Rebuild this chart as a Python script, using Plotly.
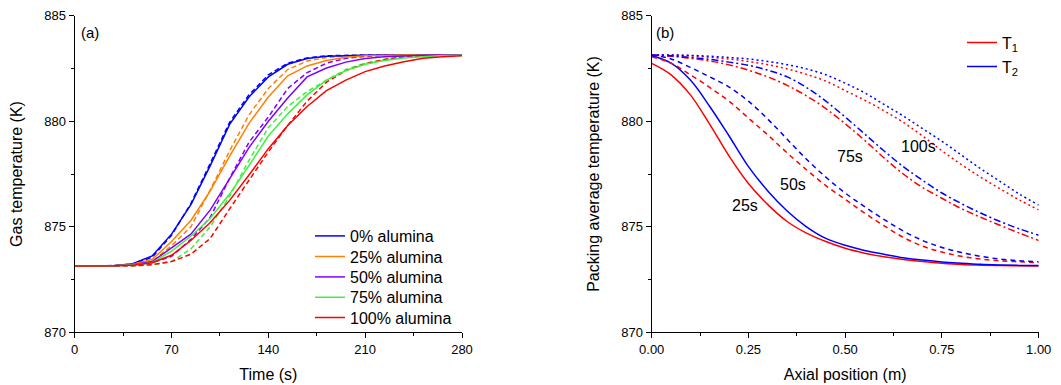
import plotly.graph_objects as go

# ---------------- Panel (a) data ----------------
time_s = [0, 14, 28, 42, 56, 70, 84, 98, 112, 126, 140, 154, 168, 182, 196, 210, 224, 238, 252, 266, 280]

a0_solid = [873.14, 873.14, 873.15, 873.25, 873.62, 874.65, 876.05, 877.9, 879.85, 881.15, 882.1, 882.7, 882.97, 883.08, 883.12, 883.13, 883.14, 883.14, 883.14, 883.14, 883.14]
a0_dash = [873.14, 873.14, 873.15, 873.24, 873.55, 874.6, 876.1, 878.0, 879.95, 881.25, 882.2, 882.75, 883.0, 883.1, 883.13, 883.14, 883.14, 883.14, 883.14, 883.14, 883.14]
a25_solid = [873.14, 873.14, 873.15, 873.22, 873.45, 874.3, 875.3, 876.7, 878.35, 879.9, 881.15, 882.15, 882.62, 882.88, 883.03, 883.1, 883.13, 883.14, 883.14, 883.14, 883.14]
a25_dash = [873.14, 873.14, 873.14, 873.2, 873.35, 874.1, 875.0, 876.75, 878.6, 880.3, 881.55, 882.45, 882.85, 883.02, 883.1, 883.13, 883.14, 883.14, 883.14, 883.14, 883.14]
a50_solid = [873.14, 873.14, 873.15, 873.2, 873.35, 874.0, 874.65, 875.8, 877.3, 878.75, 880.0, 881.1, 882.1, 882.52, 882.8, 882.97, 883.06, 883.11, 883.13, 883.14, 883.14]
a50_dash = [873.14, 873.14, 873.14, 873.17, 873.3, 873.6, 874.4, 875.45, 877.3, 879.0, 880.2, 881.55, 882.3, 882.75, 882.98, 883.07, 883.12, 883.14, 883.14, 883.14, 883.14]
a75_solid = [873.14, 873.14, 873.15, 873.19, 873.3, 873.85, 874.55, 875.4, 876.55, 877.9, 879.3, 880.35, 881.25, 881.95, 882.4, 882.7, 882.88, 883.0, 883.07, 883.11, 883.13]
a75_dash = [873.14, 873.14, 873.14, 873.15, 873.2, 873.35, 873.95, 875.0, 876.45, 878.15, 879.7, 880.7, 881.4, 881.95, 882.45, 882.75, 882.93, 883.06, 883.11, 883.13, 883.14]
a100_solid = [873.14, 873.14, 873.15, 873.18, 873.3, 873.65, 874.35, 875.2, 876.25, 877.45, 878.7, 879.8, 880.7, 881.45, 881.95, 882.35, 882.62, 882.82, 882.98, 883.06, 883.1]
a100_dash = [873.14, 873.14, 873.14, 873.15, 873.2, 873.35, 873.7, 874.45, 875.85, 877.2, 878.55, 879.8, 880.95, 881.85, 882.4, 882.72, 882.93, 883.05, 883.1, 883.13, 883.14]

series_a = [
    ("0% alumina", "#0000FF", a0_solid, a0_dash),
    ("25% alumina", "#FF8000", a25_solid, a25_dash),
    ("50% alumina", "#8000FF", a50_solid, a50_dash),
    ("75% alumina", "#40F040", a75_solid, a75_dash),
    ("100% alumina", "#FF0000", a100_solid, a100_dash),
]

# ---------------- Panel (b) data ----------------
axial_m = [0.0, 0.05, 0.10, 0.15, 0.20, 0.25, 0.30, 0.35, 0.40, 0.45, 0.50, 0.55, 0.60, 0.65, 0.70, 0.75, 0.80, 0.85, 0.90, 0.95, 1.0]

t1_25s = [882.74, 882.2, 881.25, 879.85, 878.35, 877.05, 876.05, 875.25, 874.7, 874.3, 873.98, 873.75, 873.58, 873.45, 873.35, 873.27, 873.21, 873.18, 873.16, 873.15, 873.14]
t2_25s = [883.1, 882.75, 881.95, 880.7, 879.3, 877.85, 876.7, 875.75, 875.0, 874.45, 874.12, 873.88, 873.7, 873.53, 873.42, 873.33, 873.27, 873.22, 873.19, 873.17, 873.16]
t1_50s = [883.05, 882.75, 882.2, 881.6, 880.95, 880.15, 879.35, 878.5, 877.7, 876.95, 876.3, 875.65, 875.05, 874.5, 874.08, 873.8, 873.6, 873.47, 873.39, 873.34, 873.3]
t2_50s = [883.14, 882.95, 882.55, 882.1, 881.62, 880.95, 880.1, 879.15, 878.2, 877.35, 876.6, 875.95, 875.35, 874.8, 874.35, 874.02, 873.78, 873.6, 873.47, 873.39, 873.34]
t1_75s = [883.14, 883.08, 882.98, 882.85, 882.67, 882.42, 882.1, 881.7, 881.2, 880.6, 879.88, 879.1, 878.27, 877.5, 876.86, 876.35, 875.86, 875.45, 875.07, 874.7, 874.35]
t2_75s = [883.14, 883.1, 883.02, 882.93, 882.8, 882.65, 882.42, 882.1, 881.6, 880.95, 880.2, 879.4, 878.6, 877.85, 877.2, 876.6, 876.1, 875.65, 875.25, 874.9, 874.6]
t1_100s = [883.14, 883.13, 883.1, 883.03, 882.95, 882.83, 882.68, 882.48, 882.22, 881.9, 881.45, 881.0, 880.5, 879.95, 879.3, 878.6, 877.95, 877.35, 876.8, 876.27, 875.8]
t2_100s = [883.14, 883.14, 883.12, 883.08, 883.02, 882.95, 882.83, 882.68, 882.48, 882.2, 881.8, 881.35, 880.8, 880.25, 879.65, 879.05, 878.4, 877.75, 877.15, 876.55, 876.03]

series_b = [
    ("solid", t1_25s, t2_25s),
    ("5px,4px", t1_50s, t2_50s),
    ("7px,3px,2px,3px", t1_75s, t2_75s),
    ("2px,3px", t1_100s, t2_100s),
]
time_labels = ["25s", "50s", "75s", "100s"]
time_label_x = [0.241, 0.366, 0.512, 0.689]
time_label_y = [876.0, 876.98, 878.35, 878.79]

FONT = "Liberation Sans, Arial, sans-serif"
RED, BLUE = "#FF0000", "#0000FF"
W, H = 1061, 385
OFF = 8  # page body margin offset

fig = go.Figure()

for name, color, solid, dash in series_a:
    fig.add_trace(go.Scatter(x=time_s, y=dash, mode="lines", showlegend=False,
                             line=dict(color=color, width=1.5, dash="5px,3px"),
                             xaxis="x", yaxis="y"))

legend_layouts = {}
row_y_a = [236, 256.5, 277, 297.3, 317.5]
for i, (name, color, solid, dash) in enumerate(series_a):
    lg = "legend" if i == 0 else f"legend{i + 1}"
    fig.add_trace(go.Scatter(x=time_s, y=solid, mode="lines", name=name, legend=lg,
                             line=dict(color=color, width=1.5), xaxis="x", yaxis="y"))
    legend_layouts[lg] = dict(x=302 / W, y=1 - (row_y_a[i] - OFF) / H, xanchor="left", yanchor="middle",
                              bgcolor="rgba(0,0,0,0)", borderwidth=0,
                              font=dict(family=FONT, size=16, color="black"))

row_y_b = [42.7, 66.7]
for i, (dstyle, t1, t2) in enumerate(series_b):
    fig.add_trace(go.Scatter(x=axial_m, y=t1, mode="lines", name="T<sub>1</sub>",
                             legend="legend6", showlegend=(i == 0),
                             line=dict(color=RED, width=1.5, dash=dstyle, shape="spline"),
                             xaxis="x2", yaxis="y2"))
    fig.add_trace(go.Scatter(x=axial_m, y=t2, mode="lines", name="T<sub>2</sub>",
                             legend="legend7", showlegend=(i == 0),
                             line=dict(color=BLUE, width=1.5, dash=dstyle, shape="spline"),
                             xaxis="x2", yaxis="y2"))
for j, lg in enumerate(["legend6", "legend7"]):
    legend_layouts[lg] = dict(x=954 / W, y=1 - (row_y_b[j] - OFF) / H, xanchor="left", yanchor="middle",
                              bgcolor="rgba(0,0,0,0)", borderwidth=0,
                              font=dict(family=FONT, size=16, color="black"))

for lbl, lx, ly in zip(time_labels, time_label_x, time_label_y):
    fig.add_annotation(x=lx, y=ly, xref="x2", yref="y2", text=lbl, showarrow=False,
                       font=dict(family=FONT, size=16, color="black"))

fig.add_annotation(x=0.0, y=884.2, xref="x", yref="y", text="(a)", showarrow=False,
                   xanchor="left", xshift=4, font=dict(family=FONT, size=15, color="black"))
fig.add_annotation(x=0.0, y=884.2, xref="x2", yref="y2", text="(b)", showarrow=False,
                   xanchor="left", xshift=2, font=dict(family=FONT, size=15, color="black"))

dom_a = [(74.7 - OFF) / W, (462 - OFF) / W]
dom_b = [(651.7 - OFF) / W, (1038.7 - OFF) / W]
dom_y = [1 - (332.3 - OFF) / H, 1 - (15.7 - OFF) / H]

tickfont = dict(family=FONT, size=13, color="black")
titlefont = dict(family=FONT, size=16, color="black")

def main_axis(**kw):
    d = dict(showline=True, linecolor="black", linewidth=1.3, ticks="outside", ticklen=5,
             tickwidth=1.2, tickcolor="black", showgrid=False, zeroline=False,
             tickfont=tickfont, automargin=False)
    d.update(kw)
    return d

def mirror_axis(**kw):
    d = dict(showline=True, linecolor="black", linewidth=1.3, ticks="inside", ticklen=5,
             tickwidth=1.2, tickcolor="black", showgrid=False, zeroline=False,
             showticklabels=False, automargin=False)
    d.update(kw)
    return d

fig.update_layout(
    width=W, height=H,
    margin=dict(l=0, r=0, t=0, b=0),
    paper_bgcolor="white", plot_bgcolor="white",
    font=dict(family=FONT, color="black"),
    xaxis=main_axis(domain=dom_a, range=[0, 280], dtick=70, tick0=0, anchor="y",
                    minor=dict(dtick=35, ticks="outside", ticklen=3, tickcolor="black"),
                    title=dict(text="Time (s)", font=titlefont, standoff=12)),
    yaxis=main_axis(domain=dom_y, range=[870, 885], dtick=5, tick0=870, anchor="x",
                    minor=dict(dtick=2.5, ticks="outside", ticklen=3, tickcolor="black"),
                    title=dict(text="Gas temperature (K)", font=titlefont, standoff=17)),
    xaxis3=mirror_axis(range=[0, 280], dtick=70, tick0=0, overlaying="x", side="top", anchor="y",
                       minor=dict(dtick=35, ticks="inside", ticklen=3, tickcolor="black")),
    yaxis3=mirror_axis(range=[870, 885], dtick=5, tick0=870, overlaying="y", side="right", anchor="x",
                       minor=dict(dtick=2.5, ticks="inside", ticklen=3, tickcolor="black")),
    xaxis2=main_axis(domain=dom_b, range=[0, 1], dtick=0.25, tick0=0, tickformat=".2f", anchor="y2",
                     minor=dict(dtick=0.125, ticks="outside", ticklen=3, tickcolor="black"),
                     title=dict(text="Axial position (m)", font=titlefont, standoff=12)),
    yaxis2=main_axis(domain=dom_y, range=[870, 885], dtick=5, tick0=870, anchor="x2",
                     minor=dict(dtick=2.5, ticks="outside", ticklen=3, tickcolor="black"),
                     title=dict(text="Packing average temperature (K)", font=titlefont, standoff=17)),
    xaxis4=mirror_axis(range=[0, 1], dtick=0.25, tick0=0, overlaying="x2", side="top", anchor="y2",
                       minor=dict(dtick=0.125, ticks="inside", ticklen=3, tickcolor="black")),
    yaxis4=mirror_axis(range=[870, 885], dtick=5, tick0=870, overlaying="y2", side="right", anchor="x2",
                       minor=dict(dtick=2.5, ticks="inside", ticklen=3, tickcolor="black")),
    showlegend=True,
    **legend_layouts,
)

fig.write_html("out.html")
